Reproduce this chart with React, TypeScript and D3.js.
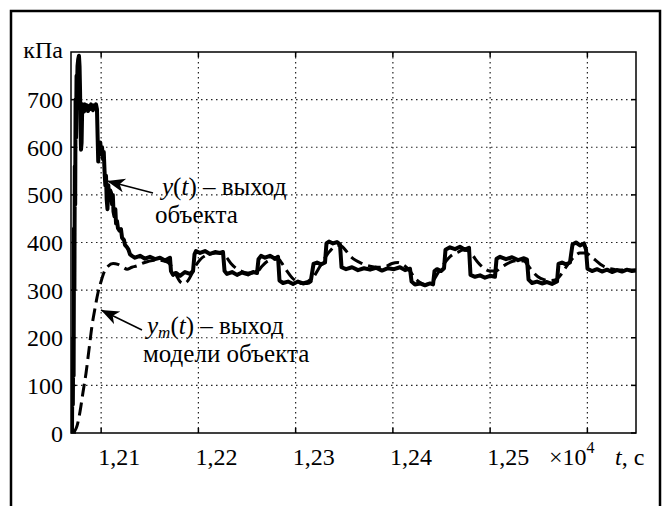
import React from 'react';
import * as d3 from 'd3';

const W = 667;
const H = 506;
const plot = { left: 71, right: 636, top: 52, bottom: 433 };

const yTicks = [0, 100, 200, 300, 400, 500, 600, 700];
const xTicks = [12100, 12200, 12300, 12400, 12500, 12600];
const xTickLabels = ['1,21', '1,22', '1,23', '1,24', '1,25', ''];

// y(t) - measured output, kPa
const measuredT = [
  12069.5, 12070.0, 12070.4, 12070.9, 12071.3, 12071.7, 12072.1, 12072.5, 12072.9, 12073.3,
  12073.7, 12074.2, 12074.7, 12075.2, 12075.7, 12076.4, 12077.2, 12077.8, 12078.3, 12078.8,
  12079.3, 12079.9, 12080.5, 12081.3, 12082.4, 12083.4, 12084.4, 12085.5, 12086.5, 12087.5,
  12088.5, 12089.6, 12090.6, 12091.6, 12092.7, 12093.7, 12094.7, 12095.7, 12096.4, 12097.0,
  12097.8, 12098.4, 12099.1, 12099.9, 12100.9, 12101.9, 12102.7, 12103.5, 12104.3, 12105.0,
  12105.7, 12106.5, 12107.4, 12108.1, 12109.1, 12110.1, 12111.2, 12112.0, 12112.7, 12113.7,
  12114.6, 12115.3, 12116.3, 12117.3, 12118.9, 12120.4, 12121.5, 12123.5, 12124.5, 12126.6,
  12128.1, 12129.7, 12131.7, 12134.8, 12140.0, 12145.1, 12150.2, 12155.4, 12160.5, 12165.7,
  12170.8, 12171.8, 12173.9, 12177.0, 12181.1, 12186.2, 12191.4, 12194.5, 12196.0, 12197.5,
  12201.7, 12206.8, 12211.9, 12217.1, 12222.2, 12225.3, 12226.9, 12229.4, 12234.6, 12239.7,
  12244.9, 12251.0, 12256.2, 12260.3, 12261.8, 12264.4, 12268.5, 12273.6, 12278.8, 12281.9,
  12283.4, 12287.0, 12292.2, 12297.3, 12302.4, 12307.6, 12312.7, 12315.8, 12318.4, 12322.0,
  12326.1, 12330.2, 12331.7, 12334.3, 12338.4, 12342.5, 12345.6, 12347.2, 12351.8, 12358.0,
  12364.1, 12370.3, 12376.5, 12382.6, 12388.8, 12395.0, 12401.2, 12407.3, 12412.5, 12417.6,
  12419.2, 12422.7, 12427.9, 12433.0, 12438.2, 12441.3, 12442.8, 12445.4, 12449.5, 12452.6,
  12454.1, 12458.7, 12463.9, 12469.0, 12474.2, 12478.3, 12479.8, 12484.4, 12489.6, 12494.7,
  12499.9, 12505.0, 12506.6, 12510.2, 12516.3, 12522.5, 12528.7, 12534.8, 12537.9, 12539.5,
  12543.1, 12548.2, 12553.3, 12558.5, 12563.6, 12568.8, 12570.3, 12573.9, 12578.0, 12582.1,
  12584.7, 12588.3, 12592.4, 12596.5, 12598.6, 12600.1, 12604.8, 12609.9, 12615.0, 12620.2,
  12625.3, 12630.5, 12635.6, 12640.7, 12645.9, 12650.0,
];
const measuredY = [
  0, 0, 130, 60, 200, 120, 430, 300, 560, 480,
  700, 620, 750, 720, 770, 785, 792, 770, 720, 640,
  595, 610, 680, 690, 675, 690, 680, 688, 676, 686,
  680, 690, 682, 678, 688, 684, 690, 680, 620, 570,
  600, 585, 610, 590, 600, 575, 590, 550, 520, 540,
  490, 470, 520, 500, 510, 505, 480, 500, 465, 455,
  470, 440, 445, 430, 425, 428, 410, 405, 395, 390,
  385, 375, 372, 368, 372, 366, 370, 365, 368, 362,
  368, 340, 332, 336, 330, 338, 334, 340, 375, 382,
  378, 382, 376, 380, 378, 380, 340, 334, 338, 332,
  337, 333, 338, 336, 365, 372, 368, 372, 366, 370,
  320, 315, 318, 313, 318, 314, 317, 322, 355, 358,
  354, 358, 398, 402, 398, 401, 396, 348, 344, 348,
  342, 346, 343, 347, 341, 346, 344, 348, 342, 345,
  318, 312, 314, 310, 314, 312, 340, 344, 340, 346,
  385, 390, 386, 391, 385, 389, 332, 328, 331, 326,
  330, 328, 366, 370, 365, 369, 363, 367, 364, 322,
  315, 318, 314, 317, 313, 318, 355, 358, 354, 358,
  396, 400, 394, 398, 385, 345, 340, 344, 339, 343,
  338, 342, 339, 343, 340, 341,
];

// y_m(t) - model output, kPa
const modelT = [
  12071.1, 12073.1, 12075.2, 12078.3, 12081.3, 12084.4, 12087.5, 12090.6, 12093.7, 12096.8,
  12099.9, 12102.9, 12107.1, 12112.2, 12117.3, 12122.5, 12126.6, 12131.7, 12136.9, 12142.0,
  12148.2, 12155.4, 12162.6, 12168.8, 12172.9, 12177.0, 12181.1, 12185.2, 12189.3, 12193.4,
  12197.5, 12201.7, 12206.8, 12211.9, 12218.1, 12224.3, 12228.4, 12233.5, 12238.7, 12244.9,
  12251.0, 12257.2, 12261.3, 12265.4, 12270.6, 12275.7, 12281.9, 12286.0, 12291.1, 12296.3,
  12301.4, 12306.6, 12311.7, 12315.8, 12319.9, 12325.1, 12330.2, 12335.3, 12340.5, 12345.6,
  12350.8, 12355.9, 12362.1, 12368.2, 12376.5, 12384.7, 12392.9, 12399.1, 12405.3, 12411.4,
  12417.6, 12422.7, 12427.9, 12433.0, 12438.2, 12442.3, 12446.4, 12451.5, 12456.7, 12461.8,
  12467.0, 12472.1, 12478.3, 12482.4, 12487.5, 12493.7, 12499.9, 12506.0, 12510.2, 12516.3,
  12522.5, 12528.7, 12534.8, 12538.9, 12544.1, 12549.2, 12555.4, 12561.6, 12567.7, 12571.9,
  12577.0, 12582.1, 12587.3, 12592.4, 12598.6, 12602.7, 12608.9, 12615.0, 12621.2, 12628.4,
  12635.6, 12643.8, 12650.0,
];
const modelY = [
  0, 5, 15, 45, 85, 125, 175, 225, 262, 295,
  318, 337, 350, 356, 354, 348, 344, 348, 351, 356,
  360, 363, 362, 358, 348, 332, 318, 314, 320, 335,
  352, 364, 372, 376, 378, 378, 370, 356, 346, 339,
  336, 336, 340, 350, 360, 364, 366, 356, 340, 326,
  318, 314, 314, 318, 332, 350, 368, 382, 392, 394,
  385, 372, 362, 356, 350, 348, 350, 356, 358, 352,
  340, 325, 316, 312, 314, 322, 336, 352, 366, 375,
  380, 384, 382, 372, 358, 346, 340, 340, 346, 354,
  360, 362, 361, 352, 338, 328, 322, 320, 322, 330,
  345, 360, 372, 378, 378, 372, 362, 352, 346, 343,
  342, 342, 342,
];

const FONT = 'Liberation Serif';
const TICK_FS = 24;
const NOTE_FS = 25;

// every text element gets its own font attributes
const T = (props: any) => <text fontFamily={FONT} fontSize={TICK_FS} fill="#000" {...props} />;

export default function App() {
  const x = d3.scaleLinear().domain([12069, 12650]).range([plot.left, plot.right]);
  const y = d3.scaleLinear().domain([0, 800]).range([plot.bottom, plot.top]);

  const line = d3
    .line<number>()
    .x((_, i) => x(measuredT[i]))
    .y((d) => y(d));
  const modelLine = d3
    .line<number>()
    .x((_, i) => x(modelT[i]))
    .y((d) => y(d))
    .curve(d3.curveMonotoneX);

  const tickLen = 5;

  return (
    <svg width={W} height={H} style={{ position: 'absolute', left: 0, top: 0, background: '#fff' }}>
      <defs>
        <clipPath id="plotClip">
          <rect x={plot.left} y={plot.top - 2} width={plot.right - plot.left} height={plot.bottom - plot.top + 2} />
        </clipPath>
        <marker
          id="head"
          markerUnits="userSpaceOnUse"
          markerWidth={20}
          markerHeight={16}
          refX={18}
          refY={7}
          orient="auto"
        >
          <path d="M0,0 L18,7 L0,14 L5,7 Z" fill="#000" />
        </marker>
      </defs>

      {/* outer frame */}
      <rect x={11} y={11} width={649} height={520} fill="none" stroke="#000" strokeWidth={2.5} />

      {/* grid */}
      <g stroke="#222" strokeWidth={1.2} strokeDasharray="1.5,3.5">
        {xTicks.map((t) => (
          <line key={'gx' + t} x1={x(t)} x2={x(t)} y1={plot.top} y2={plot.bottom} />
        ))}
        {yTicks.slice(1).map((v) => (
          <line key={'gy' + v} x1={plot.left} x2={plot.right} y1={y(v)} y2={y(v)} />
        ))}
      </g>

      {/* ticks */}
      <g stroke="#000" strokeWidth={1.5}>
        {xTicks.map((t) => (
          <g key={'tx' + t}>
            <line x1={x(t)} x2={x(t)} y1={plot.bottom} y2={plot.bottom - tickLen} />
            <line x1={x(t)} x2={x(t)} y1={plot.top} y2={plot.top + tickLen} />
          </g>
        ))}
        {yTicks.map((v) => (
          <g key={'ty' + v}>
            <line x1={plot.left} x2={plot.left + tickLen} y1={y(v)} y2={y(v)} />
            <line x1={plot.right} x2={plot.right - tickLen} y1={y(v)} y2={y(v)} />
          </g>
        ))}
      </g>

      {/* curves */}
      <g clipPath="url(#plotClip)">
        <path
          d={modelLine(modelY) || ''}
          fill="none"
          stroke="#000"
          strokeWidth={3}
          strokeDasharray="13,6"
        />
        <path
          d={line(measuredY) || ''}
          fill="none"
          stroke="#000"
          strokeWidth={4}
          strokeLinejoin="round"
        />
      </g>

      {/* axes box */}
      <rect
        x={plot.left}
        y={plot.top}
        width={plot.right - plot.left}
        height={plot.bottom - plot.top}
        fill="none"
        stroke="#000"
        strokeWidth={1.5}
      />

      {/* y tick labels */}
      {yTicks.map((v) => (
        <T key={'ly' + v} x={63} y={y(v) + 8.5} textAnchor="end">
          {v}
        </T>
      ))}
      <T x={63} y={58} textAnchor="end">кПа</T>

      {/* x tick labels */}
      {xTicks.map((t, i) => (
        <T key={'lx' + t} x={x(t) + 18} y={465} textAnchor="middle">
          {xTickLabels[i]}
        </T>
      ))}
      <T x={549} y={465}>
        ×10
        <tspan fontSize={16} dy={-12}>4</tspan>
      </T>
      <T x={615} y={465}>
        <tspan fontStyle="italic">t</tspan>, с
      </T>

      {/* annotations */}
      <line x1={153} y1={193} x2={107} y2={181} stroke="#000" strokeWidth={1.5} markerEnd="url(#head)" />
      <T x={162} y={195} fontSize={NOTE_FS}>
        <tspan fontStyle="italic">y</tspan>(<tspan fontStyle="italic">t</tspan>) – выход
      </T>
      <T x={155} y={223} fontSize={NOTE_FS}>объекта</T>

      <line x1={142} y1={330} x2={101} y2={310} stroke="#000" strokeWidth={1.5} markerEnd="url(#head)" />
      <T x={147} y={334} fontSize={NOTE_FS}>
        <tspan fontStyle="italic">y</tspan>
        <tspan fontStyle="italic" fontSize={17} dy={4}>m</tspan>
        <tspan dy={-4}>(</tspan>
        <tspan fontStyle="italic">t</tspan>) – выход
      </T>
      <T x={143} y={362} fontSize={NOTE_FS}>модели объекта</T>
    </svg>
  );
}
